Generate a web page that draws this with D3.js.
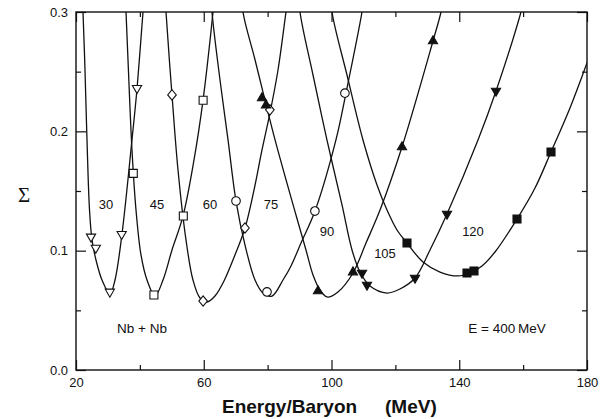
<!DOCTYPE html>
<html>
<head>
<meta charset="utf-8">
<script src="https://d3js.org/d3.v7.min.js"></script>
<style>
body { margin:0; background:#fff; }
text { font-family: "Liberation Sans", Arial, Helvetica, sans-serif; fill:#111; }
</style>
</head>
<body>
<div id="chart-area"></div>
<script>
/*
*    Sigma vs energy/baryon, Nb + Nb, E = 400 MeV
*/

var margin = { left:76, right:21, top:12, bottom:49 },
    width = 608 - margin.left - margin.right,
    height = 419 - margin.top - margin.bottom;

// beam energies (curve labels) and their marker types
var beams = ["30", "45", "60", "75", "90", "105", "120"];
var markerTypes = ["triDownOpen", "squareOpen", "diamondOpen", "circleOpen", "triUp", "triDown", "square"];

// fitted curves [energy/baryon, sigma]
var curve30 = [[21.88,0.318],[22.19,0.300],[22.82,0.2514],[23.44,0.193],[24.23,0.1341],[25.01,0.109],[26.26,0.0922],[28.14,0.0754],[30.65,0.0637],[32.21,0.0754],[34.40,0.114],[37.53,0.193],[39.10,0.2355],[40.98,0.300],[41.60,0.318]];
var curve45 = [[35.34,0.318],[35.66,0.300],[36.28,0.260],[37.53,0.1844],[38.79,0.134],[40.35,0.0964],[42.23,0.0754],[44.74,0.062],[47.24,0.0754],[50.06,0.1006],[53.50,0.129],[56.95,0.176],[59.77,0.226],[62.90,0.300],[63.52,0.318]];
var curve60 = [[47.87,0.318],[48.18,0.300],[50.06,0.2305],[51.94,0.1676],[54.44,0.109],[56.63,0.0754],[58.83,0.0603],[61.02,0.057],[63.52,0.062],[66.34,0.0746],[69.78,0.0964],[72.92,0.119],[75.73,0.1508],[78.24,0.1844],[80.74,0.2154],[83.25,0.2514],[85.75,0.300],[86.69,0.318]];
var curve75 = [[62.27,0.318],[62.58,0.300],[65.09,0.243],[67.59,0.193],[70.10,0.1416],[72.92,0.1047],[76.05,0.0754],[78.55,0.0645],[81.37,0.062],[84.81,0.0754],[87.32,0.0872],[90.45,0.1064],[94.83,0.1332],[101.41,0.193],[104.54,0.2321],[109.55,0.300],[110.49,0.318]];
var curve90 = [[71.98,0.318],[72.29,0.300],[76.05,0.260],[82.31,0.193],[88.88,0.1299],[92.01,0.1006],[94.21,0.0796],[96.40,0.067],[98.59,0.0612],[102.03,0.0654],[106.73,0.0813],[110.80,0.1064],[115.19,0.134],[122.07,0.1869],[131.78,0.2757],[134.29,0.300],[135.22,0.314]];
var curve105 = [[89.82,0.318],[90.14,0.300],[94.21,0.2472],[98.59,0.1927],[103.29,0.1383],[106.42,0.1006],[108.92,0.0821],[112.05,0.0704],[117.38,0.0645],[121.45,0.0679],[126.15,0.0771],[130.84,0.1006],[136.16,0.1307],[145.87,0.1927],[151.51,0.2338],[159.33,0.300],[160.58,0.314]];
var curve120 = [[99.84,0.318],[100.16,0.300],[104.85,0.2472],[109.86,0.1927],[114.25,0.155],[117.38,0.134],[120.51,0.1173],[123.64,0.1064],[128.65,0.0905],[133.97,0.0821],[139.61,0.0788],[143.37,0.0813],[147.12,0.0872],[151.19,0.0989],[158.08,0.1265],[163.72,0.1525],[168.73,0.1827],[174.67,0.2196],[180.0,0.2573],[180.94,0.264]];

// measured points
var points30 = [[24.7,0.1115],[26.2,0.1022],[30.6,0.0654],[34.3,0.1137],[39.1,0.236]];
var points45 = [[37.94,0.1648],[44.4,0.0629],[53.6,0.129],[59.8,0.226]];
var points60 = [[50.06,0.2305],[59.8,0.0578],[72.9,0.119],[80.7,0.218]];
var points75 = [[70.1,0.1416],[79.8,0.0654],[94.8,0.1332],[104.2,0.232]];
var points90 = [[78.24,0.228],[79.49,0.222],[95.77,0.0662],[106.73,0.0821],[122.07,0.1869],[131.78,0.2757]];
var points105 = [[109.55,0.0813],[111.11,0.0712],[126.15,0.0771],[136.16,0.1307],[151.51,0.2338]];
var points120 = [[123.64,0.1064],[142.43,0.0813],[144.62,0.083],[158.08,0.1265],[168.73,0.1827]];

// where the beam labels sit, in data units
var labelAt = [[29.4,0.139],[45.36,0.139],[61.96,0.139],[81.06,0.139],[98.59,0.1165],[116.75,0.098],[144.3,0.1165]];

var xMajor = [20, 60, 100, 140, 180],
    xMinor = [40, 80, 120, 160],
    yMajor = [0, 0.1, 0.2, 0.3],
    yMinor = [0.05, 0.15, 0.25];

var curves = [curve30, curve45, curve60, curve75, curve90, curve105, curve120];
var points = [points30, points45, points60, points75, points90, points105, points120];

var svg = d3.select("#chart-area")
    .append("svg")
    .attr("width", width + margin.left + margin.right)
    .attr("height", height + margin.top + margin.bottom);

var g = svg.append("g")
    .attr("transform", "translate(" + margin.left + ", " + margin.top + ")");

var x = d3.scaleLinear().domain([20, 180]).range([0, width]);
var y = d3.scaleLinear().domain([0, 0.3]).range([height, 0]);

// axes: ticks point inwards on all four sides
function styleAxis(sel) {
    sel.select(".domain").remove();
    sel.selectAll("line").attr("stroke", "#111").attr("stroke-width", 1.2);
    sel.attr("font-size", 13).attr("font-family", "'Liberation Sans', Arial, sans-serif");
    sel.selectAll("text").attr("fill", "#111");
}

g.append("g").attr("transform", "translate(0," + height + ")")
    .call(d3.axisBottom(x).tickValues(xMajor).tickSize(-10).tickPadding(8).tickFormat(d3.format("d")))
    .call(styleAxis);
g.append("g").attr("transform", "translate(0," + height + ")")
    .call(d3.axisBottom(x).tickValues(xMinor).tickSize(-5).tickFormat(""))
    .call(styleAxis);
g.append("g")
    .call(d3.axisTop(x).tickValues(xMajor).tickSize(-10).tickFormat(""))
    .call(styleAxis);
g.append("g")
    .call(d3.axisTop(x).tickValues(xMinor).tickSize(-5).tickFormat(""))
    .call(styleAxis);
g.append("g")
    .call(d3.axisLeft(y).tickValues(yMajor).tickSize(-10).tickPadding(8).tickFormat(d3.format(".1f")))
    .call(styleAxis);
g.append("g")
    .call(d3.axisLeft(y).tickValues(yMinor).tickSize(-5).tickFormat(""))
    .call(styleAxis);
g.append("g").attr("transform", "translate(" + width + ",0)")
    .call(d3.axisRight(y).tickValues(yMajor).tickSize(-10).tickFormat(""))
    .call(styleAxis);
g.append("g").attr("transform", "translate(" + width + ",0)")
    .call(d3.axisRight(y).tickValues(yMinor).tickSize(-5).tickFormat(""))
    .call(styleAxis);

// frame
g.append("rect")
    .attr("width", width)
    .attr("height", height)
    .attr("fill", "none")
    .attr("stroke", "#111")
    .attr("stroke-width", 1.4);

// clip the curves to the plot box
svg.append("defs").append("clipPath")
    .attr("id", "plot-clip")
    .append("rect")
    .attr("width", width)
    .attr("height", height);

var line = d3.line()
    .x(function(d) { return x(d[0]); })
    .y(function(d) { return y(d[1]); })
    .curve(d3.curveCatmullRom.alpha(0.5));

g.append("g")
    .attr("clip-path", "url(#plot-clip)")
    .selectAll("path")
    .data(curves)
    .enter().append("path")
        .attr("d", line)
        .attr("fill", "none")
        .attr("stroke", "#111")
        .attr("stroke-width", 1.3);

// marker shapes
var triUpSym = { draw: function(c, s) {
    c.moveTo(0, -5.2); c.lineTo(4.6, 2.8); c.lineTo(-4.6, 2.8); c.closePath(); } };
var triDownSym = { draw: function(c, s) {
    c.moveTo(0, 5.2); c.lineTo(4.6, -2.8); c.lineTo(-4.6, -2.8); c.closePath(); } };
var squareSym = { draw: function(c, s) { c.rect(-4, -4, 8, 8); } };
var diamondSym = { draw: function(c, s) {
    c.moveTo(0, -5.2); c.lineTo(4.3, 0); c.lineTo(0, 5.2); c.lineTo(-4.3, 0); c.closePath(); } };
var circleSym = { draw: function(c, s) { c.moveTo(4.3, 0); c.arc(0, 0, 4.3, 0, 2 * Math.PI); } };

var shapes = {
    triDownOpen: { sym: triDownSym, fill: "#fff" },
    squareOpen: { sym: squareSym, fill: "#fff" },
    diamondOpen: { sym: diamondSym, fill: "#fff" },
    circleOpen: { sym: circleSym, fill: "#fff" },
    triUp: { sym: triUpSym, fill: "#111" },
    triDown: { sym: triDownSym, fill: "#111" },
    square: { sym: squareSym, fill: "#111" }
};

points.forEach(function(pts, i) {
    var sh = shapes[markerTypes[i]];
    g.append("g")
        .selectAll("path")
        .data(pts)
        .enter().append("path")
            .attr("d", d3.symbol().type(sh.sym))
            .attr("transform", function(d) { return "translate(" + x(d[0]) + "," + y(d[1]) + ")"; })
            .attr("fill", sh.fill)
            .attr("stroke", "#111")
            .attr("stroke-width", 1.1);
});

// beam energy labels
g.append("g")
    .selectAll("text")
    .data(beams)
    .enter().append("text")
        .attr("x", function(d, i) { return x(labelAt[i][0]); })
        .attr("y", function(d, i) { return y(labelAt[i][1]); })
        .attr("dy", "0.35em")
        .attr("text-anchor", "middle")
        .attr("font-size", 13)
        .text(function(d) { return d; });

g.append("text")
    .attr("x", x(40.67))
    .attr("y", y(0.0352))
    .attr("dy", "0.35em")
    .attr("text-anchor", "middle")
    .attr("font-size", 13.5)
    .text("Nb + Nb");

g.append("text")
    .attr("x", x(154.95))
    .attr("y", y(0.0352))
    .attr("dy", "0.35em")
    .attr("text-anchor", "middle")
    .attr("font-size", 13.5)
    .text("E = 400\u2009MeV");

// axis titles
var xt = svg.append("text")
    .attr("y", 413)
    .attr("font-size", 19)
    .attr("font-weight", "bold");
xt.append("tspan").attr("x", 222).text("Energy/Baryon");
xt.append("tspan").attr("x", 385).text("(MeV)");

svg.append("text")
    .attr("x", 24)
    .attr("y", 195)
    .attr("dy", "0.35em")
    .attr("text-anchor", "middle")
    .attr("font-size", 21)
    .style("font-family", "'Liberation Serif', 'DejaVu Serif', serif")
    .text("\u03A3");
</script>
</body>
</html>
